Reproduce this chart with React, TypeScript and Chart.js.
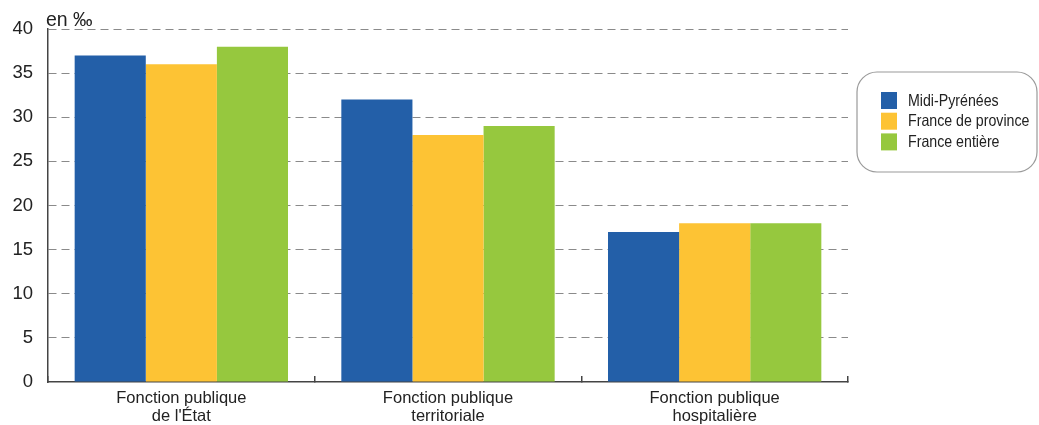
import React, { useEffect, useRef } from "react";
import { Chart, registerables } from "chart.js";

Chart.register(...registerables);

const categories: string[][] = [
  ["Fonction publique", "de l'État"],
  ["Fonction publique", "territoriale"],
  ["Fonction publique", "hospitalière"],
];
const seriesLabels = ["Midi-Pyrénées", "France de province", "France entière"];
const midiPyrenees = [37, 32, 17];
const franceProvince = [36, 28, 18];
const franceEntiere = [38, 29, 18];
const seriesColors = ["#235fa8", "#fdc334", "#96c83e"];
const unitLabel = "en ‰";

const FONT = "'Liberation Sans', Arial, Helvetica, sans-serif";

const decorPlugin = {
  id: "decor",
  afterDraw(chart: any) {
    const ctx = chart.ctx as CanvasRenderingContext2D;
    const area = chart.chartArea;
    ctx.save();
    // unit label
    ctx.fillStyle = "#222";
    ctx.font = `19.5px ${FONT}`;
    ctx.textAlign = "left";
    ctx.textBaseline = "alphabetic";
    ctx.fillText(unitLabel, area.left - 2, area.top - 3);

    // legend box
    const bx = area.right + 9;
    const by = 72;
    const bw = 180;
    const bh = 100;
    ctx.beginPath();
    (ctx as any).roundRect(bx, by, bw, bh, 20);
    ctx.fillStyle = "#ffffff";
    ctx.fill();
    ctx.lineWidth = 1.2;
    ctx.strokeStyle = "#9a9a9a";
    ctx.stroke();

    const ds = chart.data.datasets;
    ctx.textBaseline = "middle";
    for (let i = 0; i < ds.length; i++) {
      const y = by + 20 + i * 20.7;
      ctx.fillStyle = ds[i].backgroundColor;
      ctx.fillRect(bx + 24, y, 16, 17);
      ctx.save();
      ctx.translate(bx + 51, y + 9);
      ctx.scale(0.86, 1);
      ctx.font = `16.5px ${FONT}`;
      ctx.fillStyle = "#222";
      ctx.fillText(ds[i].label, 0, 0);
      ctx.restore();
    }
    ctx.restore();
  },
};

export default function App() {
  const ref = useRef<HTMLCanvasElement | null>(null);
  useEffect(() => {
    if (!ref.current) return;
    const chart = new Chart(ref.current, {
      type: "bar",
      data: {
        labels: categories,
        datasets: [
          { label: seriesLabels[0], data: midiPyrenees, backgroundColor: seriesColors[0] },
          { label: seriesLabels[1], data: franceProvince, backgroundColor: seriesColors[1] },
          { label: seriesLabels[2], data: franceEntiere, backgroundColor: seriesColors[2] },
        ],
      },
      options: {
        animation: false,
        responsive: false,
        layout: { padding: { top: 29, right: 191, left: 0, bottom: 0 } },
        datasets: { bar: { categoryPercentage: 0.8, barPercentage: 1.0 } },
        plugins: { legend: { display: false }, tooltip: { enabled: false } },
        scales: {
          x: {
            grid: {
              display: true,
              drawOnChartArea: false,
              drawTicks: true,
              tickLength: -6,
              color: "#444",
              lineWidth: 1.5,
            },
            border: { display: true, color: "#444", width: 1.5 },
            ticks: {
              color: "#222",
              font: { family: FONT, size: 16.5, lineHeight: 1.08 },
              padding: 14,
              maxRotation: 0,
              autoSkip: false,
            },
            afterFit(scale: any) {
              scale.height = 43;
            },
          },
          y: {
            min: 0,
            max: 40,
            ticks: {
              stepSize: 5,
              color: "#222",
              font: { family: FONT, size: 18.5 },
              padding: 15,
            },
            grid: {
              drawTicks: false,
              color: (c: any) => (c.tick && c.tick.value === 0 ? "rgba(0,0,0,0)" : "#8a8a8a"),
              lineWidth: 1,
            },
            border: { display: true, color: "#444", width: 1.5, dash: [8, 5] },
            afterFit(scale: any) {
              scale.width = 48;
            },
          },
        },
      },
      plugins: [decorPlugin],
    } as any);
    return () => chart.destroy();
  }, []);
  return (
    <div style={{ position: "fixed", left: 0, top: 0, width: 1039, height: 425, background: "#fff" }}>
      <canvas ref={ref} width={1039} height={425} />
    </div>
  );
}
